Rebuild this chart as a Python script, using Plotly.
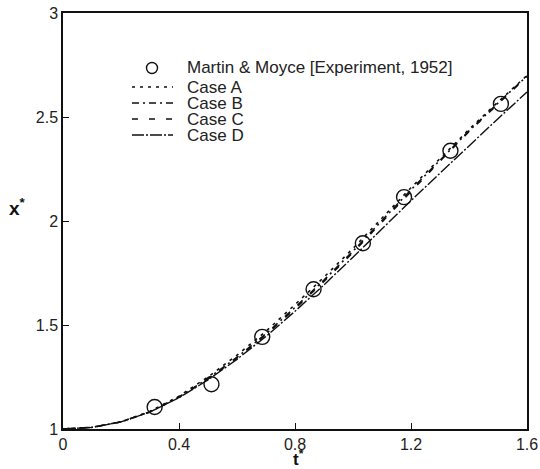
import plotly.graph_objects as go

# Experimental data (Martin & Moyce, 1952)
exp_t = [0.316, 0.512, 0.687, 0.864, 1.034, 1.176, 1.336, 1.510]
exp_x = [1.106, 1.215, 1.443, 1.672, 1.893, 2.115, 2.338, 2.563]

# Simulation curves
t_vals = [0.0, 0.1, 0.2, 0.3, 0.4, 0.5, 0.6, 0.7, 0.8, 0.9, 1.0, 1.1, 1.2, 1.3, 1.4, 1.5, 1.6]
case_a = [1.0, 1.008, 1.035, 1.085, 1.158, 1.250, 1.355, 1.470, 1.598, 1.730, 1.868, 2.015, 2.160, 2.300, 2.440, 2.572, 2.700]
case_b = [1.0, 1.008, 1.034, 1.083, 1.154, 1.243, 1.345, 1.458, 1.584, 1.716, 1.855, 2.003, 2.150, 2.292, 2.433, 2.567, 2.697]
case_c = [1.0, 1.008, 1.034, 1.082, 1.152, 1.240, 1.341, 1.453, 1.578, 1.710, 1.849, 1.997, 2.145, 2.288, 2.430, 2.565, 2.695]
case_d = [1.0, 1.008, 1.034, 1.082, 1.150, 1.236, 1.335, 1.445, 1.566, 1.693, 1.826, 1.963, 2.098, 2.230, 2.362, 2.492, 2.620]

series_names = ["Martin & Moyce [Experiment, 1952]", "Case A", "Case B", "Case C", "Case D"]

x_ticks = [0, 0.4, 0.8, 1.2, 1.6]
x_tick_text = ["0", "0.4", "0.8", "1.2", "1.6"]
y_ticks = [1, 1.5, 2, 2.5, 3]
y_tick_text = ["1", "1.5", "2", "2.5", "3"]

FONT = "Liberation Sans, Arial, sans-serif"
INK = "#111"

dashes = {
    "Case A": "3px,5px",
    "Case B": "7px,4px,2px,4px",
    "Case C": "6px,11px",
    "Case D": "12px,2px,2px,2px",
}

fig = go.Figure()
fig.add_trace(go.Scatter(x=exp_t, y=exp_x, mode="markers", name=series_names[0],
                         marker=dict(symbol="circle-open", size=15, color=INK,
                                     line=dict(width=1.4, color=INK))))
for nm, ys, w in [("Case A", case_a, 1.6), ("Case B", case_b, 1.6),
                  ("Case C", case_c, 1.6), ("Case D", case_d, 1.4)]:
    fig.add_trace(go.Scatter(x=t_vals, y=ys, mode="lines", name=nm,
                             line=dict(color=INK, width=w, dash=dashes[nm])))

# plot area in page pixels
W, H = 540, 469
PL, PR, PT, PB = 63, 527, 13, 429
def px_x(ax):
    return (ax - PL) / (PR - PL)
def px_y(ay):
    return (PB - ay) / (PB - PT)

annotations = []
shapes = []
# legend drawn inside the plot area
row_y = [68, 87, 103, 119, 135]
text_x = 186
for i, nm in enumerate(series_names):
    annotations.append(dict(xref="paper", yref="paper", x=px_x(text_x), y=px_y(row_y[i]),
                            xanchor="left", yanchor="middle", showarrow=False, text=nm,
                            borderpad=0,
                            font=dict(family=FONT, size=17, color="#222")))
    if i == 0:
        shapes.append(dict(type="circle", xref="paper", yref="paper",
                           x0=px_x(146.5), x1=px_x(157.5), y0=px_y(row_y[i] + 5.5), y1=px_y(row_y[i] - 5.5),
                           line=dict(color=INK, width=1.4)))
    else:
        shapes.append(dict(type="line", xref="paper", yref="paper",
                           x0=px_x(132), x1=px_x(173), y0=px_y(row_y[i]), y1=px_y(row_y[i]),
                           line=dict(color=INK, width=1.5, dash=dashes[nm])))

# axis titles
annotations.append(dict(xref="paper", yref="paper", x=px_x(17), y=px_y(207),
                        xanchor="center", yanchor="middle", showarrow=False, borderpad=0,
                        text="<b>x<sup>*</sup></b>", font=dict(family=FONT, size=19, color=INK)))
annotations.append(dict(xref="paper", yref="paper", x=px_x(298), y=px_y(458),
                        xanchor="center", yanchor="middle", showarrow=False, borderpad=0,
                        text="<b>t<sup>*</sup></b>", font=dict(family=FONT, size=17, color=INK)))

fig.update_layout(
    width=W, height=H, autosize=False,
    margin=dict(l=PL, r=W - PR, t=PT, b=H - PB, autoexpand=False),
    paper_bgcolor="white", plot_bgcolor="white",
    font=dict(family=FONT, size=16, color=INK),
    showlegend=False,
    annotations=annotations,
    shapes=shapes,
    xaxis=dict(range=[0, 1.6], tickvals=x_ticks, ticktext=x_tick_text,
               ticks="inside", ticklen=6, tickwidth=1.2, tickcolor=INK,
               showline=True, linecolor=INK, linewidth=1.5, mirror=True,
               showgrid=False, zeroline=False, automargin=False,
               ticklabeloverflow="allow",
               tickfont=dict(size=16, color="#222")),
    yaxis=dict(range=[1, 3], tickvals=y_ticks, ticktext=y_tick_text,
               ticks="inside", ticklen=6, tickwidth=1.2, tickcolor=INK,
               showline=True, linecolor=INK, linewidth=1.5, mirror=True,
               showgrid=False, zeroline=False, automargin=False,
               ticklabeloverflow="allow",
               tickfont=dict(size=16, color="#222")),
)

fig.write_html("out.html", config={"displayModeBar": False},
               post_script="document.body.style.margin='0';document.body.style.overflow='hidden';")
